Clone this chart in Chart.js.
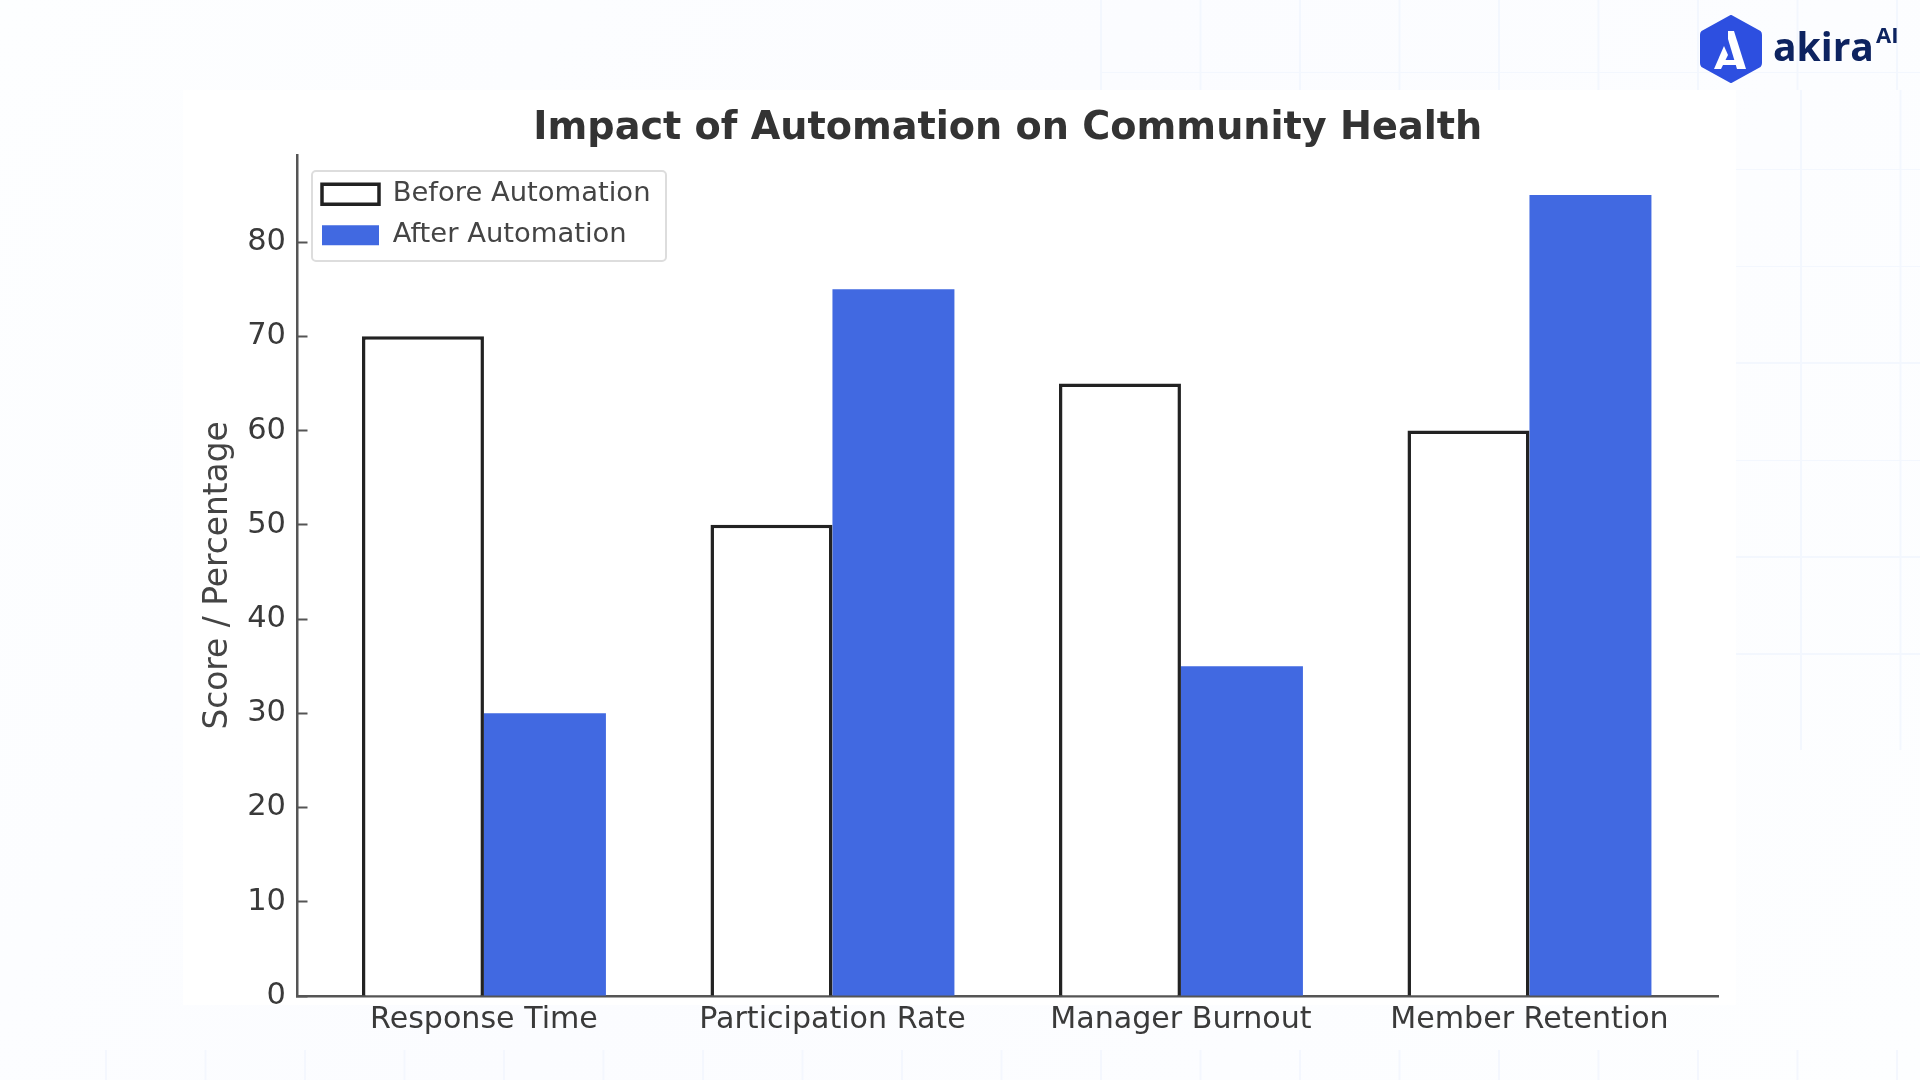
<!DOCTYPE html>
<html>
<head>
<meta charset="utf-8">
<title>Impact of Automation on Community Health</title>
<script src="https://cdn.jsdelivr.net/npm/chart.js@4/dist/chart.umd.min.js"></script>
<style>
  html, body { margin: 0; width: 1920px; height: 1080px; overflow: hidden; }
  body { position: relative; background: linear-gradient(120deg, #fdfeff 0%, #fbfcff 45%, #fdfeff 100%); font-family: "DejaVu Sans", sans-serif; }
  .grid { position: absolute;
    background-image: linear-gradient(to right, #f3f7fe 2px, transparent 2px), linear-gradient(to bottom, #f3f7fe 2px, transparent 2px);
    background-size: 99.5px 97px; }
  #grid-top { left: 1100px; top: 0; width: 820px; height: 90px; background-position: 0 -26px; }
  #grid-right { left: 1736px; top: 90px; width: 184px; height: 660px; background-position: 64px 78px; }
  #grid-bottom { left: 105px; top: 1050px; width: 1815px; height: 30px; background-image: linear-gradient(to right, #f4f7fe 2px, transparent 2px); }
  #panel { position: absolute; left: 183px; top: 90px; width: 1553px; height: 915px; background: #fff; }
  #chart { position: absolute; left: 0; top: 0; }
  #logo { position: absolute; left: 1690px; top: 5px; }
</style>
</head>
<body>
<div class="grid" id="grid-top"></div>
<div class="grid" id="grid-right"></div>
<div class="grid" id="grid-bottom"></div>
<div id="panel"></div>
<canvas id="chart" width="1920" height="1080"></canvas>
<svg id="logo" width="225" height="90" viewBox="0 0 225 90">
  <path d="M41 11 L70 27 Q71 28 71 30 L71 58 Q71 60 70 61 L41 77 L12 61 Q11 60 11 58 L11 30 Q11 28 12 27 Z" fill="#2d4fe0" stroke="#2d4fe0" stroke-width="2" stroke-linejoin="round"/>
  <path d="M38 26 L44 26 L56 64 L47 64 L38 34 Z" fill="#fff"/>
  <path d="M34 41 L38 50 L31 64 L24 64 Z" fill="#fff"/>
  <path d="M30 55 L47 55 L48 60 L28 60 Z" fill="#fff"/>
  <text x="83" y="56" font-family="Open Sans" font-weight="700" font-size="39" fill="#0d2360">akira</text>
  <text x="186" y="38" font-family="Open Sans" font-weight="700" font-size="22" fill="#0d2360">AI</text>
</svg>
<script>
// ─── Data ───────────────────────────────────────────────────

const categories = ['Response Time', 'Participation Rate', 'Manager Burnout', 'Member Retention'];
const beforeValues = [70, 50, 65, 60];
const afterValues = [30, 75, 35, 85];
const yTicks = [0, 10, 20, 30, 40, 50, 60, 70, 80];

const AXIS_COLOR = '#555555';
const TEXT_COLOR = '#3a3a3a';
const BLUE = '#4169e1';

// ─── Legend frame ───────────────────────────────────────────

const legendFrame = {
  id: 'legendFrame',
  afterLayout(chart) {
    chart.legend.left = 308.4;
    chart.legend.top = 167;
  },
  beforeDraw(chart) {
    const { ctx } = chart;
    ctx.save();
    ctx.strokeStyle = '#dddddd';
    ctx.lineWidth = 2;
    ctx.beginPath();
    ctx.roundRect(312, 171, 354, 90, 4);
    ctx.stroke();
    ctx.restore();
  },
};

// ─── Chart ──────────────────────────────────────────────────

const toPoints = values => values.map((y, x) => ({ x, y }));

new Chart(document.getElementById('chart'), {
  type: 'bar',
  data: {
    datasets: [
      {
        label: 'Before Automation',
        data: toPoints(beforeValues),
        backgroundColor: '#ffffff',
        borderColor: '#222222',
        borderWidth: 3.5,
      },
      {
        label: 'After Automation',
        data: toPoints(afterValues),
        backgroundColor: BLUE,
        borderColor: BLUE,
        borderWidth: 0,
      },
    ],
  },
  options: {
    responsive: false,
    animation: false,
    barPercentage: 1,
    categoryPercentage: 0.7,
    layout: { padding: { left: 199, right: 202, top: 0, bottom: 0 } },
    plugins: {
      tooltip: { enabled: false },
      title: {
        display: true,
        text: 'Impact of Automation on Community Health',
        color: '#333333',
        fullSize: false,
        font: { family: 'DejaVu Sans', size: 38.2, weight: 'bold' },
        padding: { top: 106.5, bottom: 2.6 },
      },
      legend: {
        position: 'chartArea',
        align: 'start',
        labels: {
          color: '#444444',
          font: { family: 'DejaVu Sans', size: 27.4 },
          boxWidth: 57,
          boxHeight: 20,
          padding: 13.6,
        },
      },
    },
    scales: {
      x: {
        type: 'linear',
        offset: false,
        min: -0.535,
        max: 3.541,
        afterBuildTicks: scale => { scale.ticks = categories.map((_, value) => ({ value })); },
        afterFit: scale => { scale.height = 84; },
        border: { display: true, color: AXIS_COLOR, width: 2.5 },
        grid: { offset: false, drawOnChartArea: false, drawTicks: false },
        ticks: {
          color: TEXT_COLOR,
          font: { family: 'DejaVu Sans', size: 30.1 },
          padding: 6,
          autoSkip: false,
          maxRotation: 0,
          callback: value => categories[value],
        },
      },
      y: {
        min: 0,
        max: 89.25,
        afterBuildTicks: scale => { scale.ticks = yTicks.map(value => ({ value })); },
        afterFit: scale => { scale.width = 98.5; },
        border: { display: true, color: AXIS_COLOR, width: 2.5 },
        grid: { drawOnChartArea: false, tickLength: -10, tickColor: AXIS_COLOR, tickWidth: 2 },
        ticks: {
          color: TEXT_COLOR,
          font: { family: 'DejaVu Sans', size: 30.5 },
          padding: 21.5,
        },
        title: {
          display: true,
          text: 'Score / Percentage',
          color: '#444444',
          font: { family: 'DejaVu Sans', size: 32.8 },
          padding: 0,
        },
      },
    },
  },
  plugins: [legendFrame],
});
</script>
</body>
</html>
